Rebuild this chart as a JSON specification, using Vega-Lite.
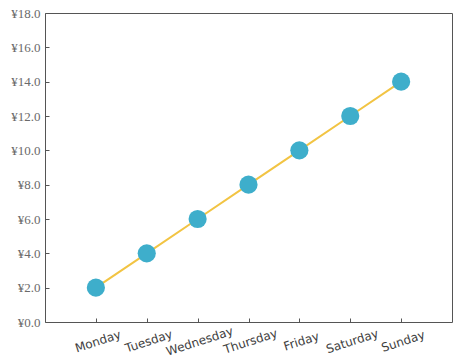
{
  "$schema": "https://vega.github.io/schema/vega-lite/v6.json",
  "width": 407,
  "height": 309,
  "autosize": {"type": "none"},
  "padding": {"left": 45, "top": 13, "right": 1, "bottom": 41},
  "background": "white",
  "config": {
    "view": {"stroke": "#555555", "strokeWidth": 1}
  },
  "data": {
    "values": [
      {"day": "Monday", "value": 2},
      {"day": "Tuesday", "value": 4},
      {"day": "Wednesday", "value": 6},
      {"day": "Thursday", "value": 8},
      {"day": "Friday", "value": 10},
      {"day": "Saturday", "value": 12},
      {"day": "Sunday", "value": 14}
    ]
  },
  "encoding": {
    "x": {
      "field": "day",
      "type": "ordinal",
      "sort": null,
      "scale": {"type": "point", "padding": 1},
      "axis": {
        "title": null,
        "domain": false,
        "grid": false,
        "tickSize": -4,
        "tickColor": "#555555",
        "labelAngle": -18,
        "labelAlign": "center",
        "labelBaseline": "top",
        "labelPadding": 18,
        "labelFont": "DejaVu Sans",
        "labelFontSize": 12,
        "labelColor": "#3f3f3f"
      }
    },
    "y": {
      "field": "value",
      "type": "quantitative",
      "scale": {"domain": [0, 18], "nice": false},
      "axis": {
        "title": null,
        "domain": false,
        "grid": false,
        "values": [0, 2, 4, 6, 8, 10, 12, 14, 16, 18],
        "labelExpr": "'¥' + format(datum.value, '.1f')",
        "tickSize": -4,
        "tickColor": "#555555",
        "labelPadding": 9,
        "labelFont": "Liberation Serif",
        "labelFontSize": 13,
        "labelColor": "#6a6a6a"
      }
    }
  },
  "layer": [
    {"mark": {"type": "line", "color": "#f2c443", "strokeWidth": 2}},
    {"mark": {"type": "circle", "color": "#3eaecb", "opacity": 1, "size": 330}}
  ]
}
